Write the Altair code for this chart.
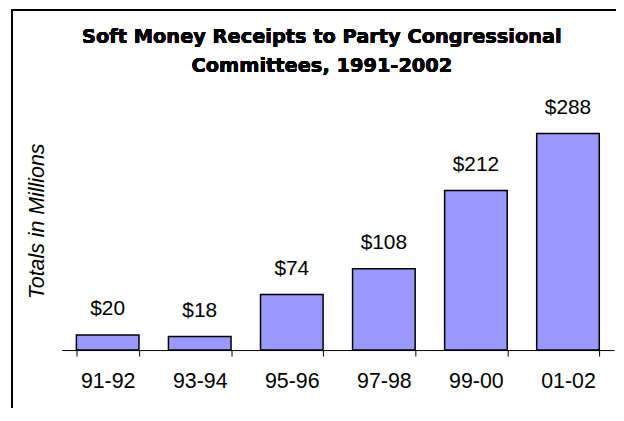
import altair as alt
import pandas as pd

cycles = ["91-92", "93-94", "95-96", "97-98", "99-00", "01-02"]
receipts = [20, 18, 74, 108, 212, 288]
title_lines = ["Soft Money Receipts to Party Congressional", "Committees, 1991-2002"]

df = pd.DataFrame({"cycle": cycles, "value": receipts})
df["label"] = ["$" + str(v) for v in receipts]

FONT = "Liberation Sans"
TITLE_FONT = "DejaVu Sans"

x = alt.X(
    "cycle:N",
    sort=cycles,
    scale=alt.Scale(paddingInner=0.32, paddingOuter=0.16),
    axis=alt.Axis(
        title=None,
        labelAngle=0,
        labelFont=FONT,
        labelFontSize=21.5,
        labelColor="black",
        labelBaseline="alphabetic",
        labelPadding=32,
        tickBand="extent",
        tickSize=6,
        tickColor="black",
        domainColor="black",
        domainWidth=1,
        grid=False,
    ),
)
y = alt.Y(
    "value:Q",
    scale=alt.Scale(domain=[0, 350], nice=False),
    axis=alt.Axis(
        title="Totals in Millions",
        titleFont=FONT,
        titleFontSize=21.5,
        titleFontStyle="italic",
        titleFontWeight="normal",
        titleColor="black",
        titleAngle=270,
        titleAlign="center",
        titleBaseline="middle",
        titleX=-24,
        titleY=135,
        labels=False,
        ticks=False,
        domain=False,
        grid=False,
    ),
)

bars = alt.Chart(df).mark_bar(
    color="#9999FF", stroke="black", strokeWidth=1.5
).encode(x=x, y=y)

labels = alt.Chart(df).mark_text(
    font=FONT, fontSize=21, color="black", baseline="alphabetic", dy=-20
).encode(x=x, y=y, text="label:N")

title1 = alt.Chart(df).mark_text(
    font=TITLE_FONT, fontSize=19.5, fontWeight="bold", color="black",
    align="center", baseline="alphabetic",
).encode(x=alt.value(262), y=alt.value(-44), text=alt.value(title_lines[0]))
title2 = alt.Chart(df).mark_text(
    font=TITLE_FONT, fontSize=19.5, fontWeight="bold", color="black",
    align="center", baseline="alphabetic",
).encode(x=alt.value(262), y=alt.value(-14.5), text=alt.value(title_lines[1]))

frame_left = alt.Chart(df).mark_rule(color="black", strokeWidth=1.2).encode(
    x=alt.value(-50), y=alt.value(-78), y2=alt.value(330)
)
frame_top = alt.Chart(df).mark_rule(color="black", strokeWidth=1.2).encode(
    x=alt.value(-50), x2=alt.value(570), y=alt.value(-77.5)
)

chart = (
    alt.layer(frame_left, frame_top, bars, labels, title1, title2)
    .properties(
        width=556,
        height=265,
        autosize=alt.AutoSizeParams(type="none"),
        padding={"left": 54, "top": 78, "right": 2, "bottom": 57},
    )
    .configure_view(stroke=None)
)

chart.save("out.html", embed_options={"renderer": "svg", "actions": False})
